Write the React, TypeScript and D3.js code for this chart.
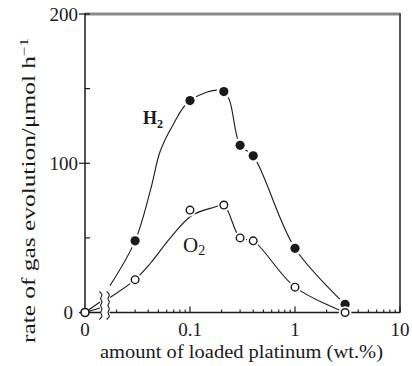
import React from "react";
import * as d3 from "d3";

const loadings = [0.03, 0.1, 0.21, 0.3, 0.4, 1, 3]; // wt.% Pt
const h2Rates = [48, 142, 148, 112, 105, 43, 5.5]; // µmol/h
const o2Rates = [22, 68.6, 72, 50, 48, 17, 0]; // µmol/h
const zeroRates = [0]; // at 0 wt.% (both gases)

// ---- hand-drawn guide curves ----
const h2FitLoadings = [0.0173, 0.03, 0.042, 0.052, 0.068, 0.1, 0.21, 0.3, 0.4, 1, 3];
const h2FitRates = [18, 48, 82, 108, 125, 142, 148, 112, 105, 43, 5.5];
const o2FitLoadings = [0.0173, 0.03, 0.042, 0.065, 0.104, 0.17, 0.21, 0.3, 0.4, 1, 3];
const o2FitRates = [10, 22, 33, 50, 65, 70.5, 72, 50, 48, 17, 0];

// short straight segments between the 0 point and the axis break
const preBreakLoading = 0.0139;
const h2PreBreak = 7;
const o2PreBreak = 3;

const xTickValues = [0.1, 1, 10];
const xTickLabels = ["0.1", "1", "10"];
const yTickValues = [0, 100, 200];
const yTickLabels = ["0", "100", "200"];
const yMinorTicks = [50, 150];

const FONT = "'Liberation Serif', 'Times New Roman', serif";
const INK = "#1a1a1a";

export default function App() {
  const W = 412;
  const H = 366;
  const x = d3.scaleLog().domain([0.01, 10]).range([85, 400]);
  const y = d3.scaleLinear().domain([0, 200]).range([312.5, 14]);
  const x0 = x.range()[0];
  const x1 = x.range()[1];
  const yb = y(0);
  const yt = y(200);

  const minorX: number[] = [];
  [0.01, 0.1, 1].forEach((d) => {
    for (let m = 2; m <= 9; m++) minorX.push(d * m);
  });

  const line = d3
    .line<number>()
    .curve(d3.curveCatmullRom.alpha(0.5));

  const h2Path = d3
    .line<number>()
    .x((d, i) => x(h2FitLoadings[i]))
    .y((d) => y(d))
    .curve(d3.curveCatmullRom.alpha(0.5))(h2FitRates) || "";
  const o2Path = d3
    .line<number>()
    .x((d, i) => x(o2FitLoadings[i]))
    .y((d) => y(d))
    .curve(d3.curveCatmullRom.alpha(0.5))(o2FitRates) || "";
  void line;

  // break squiggles
  const bx1 = x(0.0143);
  const bx2 = x(0.0168);
  const squiggle = (cx: number) => {
    const pts: [number, number][] = [];
    let k = 0;
    for (let yy = yb - 21; yy <= yb + 10; yy += 3.5, k++) {
      pts.push([cx + (k % 2 === 0 ? -2 : 2), yy]);
    }
    return d3.line<[number, number]>().curve(d3.curveBasis)(pts) || "";
  };

  return (
    <svg width={W} height={H} style={{ display: "block", position: "absolute", left: 0, top: 0, background: "#fff" }}>
      <rect width={W} height={H} fill="#fff" />
      {/* frame */}
      <line x1={x0} x2={x1} y1={yt} y2={yt} stroke="#8a8a8a" strokeWidth={3} />
      <line x1={x1} x2={x1} y1={yt - 1} y2={yb} stroke="#555" strokeWidth={2} />
      <line x1={x0} x2={x0} y1={yt - 1} y2={yb} stroke={INK} strokeWidth={1.5} />
      {/* bottom axis with break */}
      <line x1={x0} x2={bx1 - 1} y1={yb} y2={yb} stroke={INK} strokeWidth={1.5} />
      <line x1={bx2 + 1} x2={x1} y1={yb} y2={yb} stroke={INK} strokeWidth={1.5} />
      <path d={squiggle(bx1)} fill="none" stroke={INK} strokeWidth={1.1} />
      <path d={squiggle(bx2)} fill="none" stroke={INK} strokeWidth={1.1} />

      {/* y ticks */}
      {yTickValues.map((v) => (
        <line key={"yt" + v} x1={x0 - 6} x2={x0 + 5} y1={y(v)} y2={y(v)} stroke={INK} strokeWidth={1.2} />
      ))}
      {yMinorTicks.map((v) => (
        <line key={"ym" + v} x1={x0} x2={x0 + 5} y1={y(v)} y2={y(v)} stroke={INK} strokeWidth={1.2} />
      ))}
      {yTickValues.map((v, i) => (
        <text
          key={"yl" + v}
          x={v === 0 ? x0 - 12 : x0 - 7}
          y={y(v)}
          dy="0.36em"
          textAnchor="end"
          fontFamily={FONT}
          fontSize={19}
          fill={INK}
        >
          {yTickLabels[i]}
        </text>
      ))}

      {/* x ticks */}
      {minorX.map((v) => (
        <line key={"xm" + v} x1={x(v)} x2={x(v)} y1={yb} y2={yb - 3} stroke={INK} strokeWidth={1.1} />
      ))}
      {xTickValues.map((v) => (
        <line key={"xt" + v} x1={x(v)} x2={x(v)} y1={yb} y2={yb - 6} stroke={INK} strokeWidth={1.2} />
      ))}
      <text x={x0} y={336} textAnchor="middle" fontFamily={FONT} fontSize={19} fill={INK}>
        0
      </text>
      {xTickValues.map((v, i) => (
        <text key={"xl" + v} x={x(v)} y={336} textAnchor="middle" fontFamily={FONT} fontSize={19} fill={INK}>
          {xTickLabels[i]}
        </text>
      ))}

      {/* axis titles */}
      <text
        x={241.5}
        y={358}
        textAnchor="middle"
        fontFamily={FONT}
        fontSize={18}
        fill={INK}
        textLength={283}
        lengthAdjust="spacingAndGlyphs"
      >
        amount of loaded platinum (wt.%)
      </text>
      <text
        transform={`translate(35,${(38 + 343) / 2}) rotate(-90)`}
        textAnchor="middle"
        fontFamily={FONT}
        fontSize={18}
        fill={INK}
        textLength={305}
        lengthAdjust="spacingAndGlyphs"
      >
        rate of gas evolution/μmol h
        <tspan dy={-7} fontSize={12}>
          −1
        </tspan>
      </text>

      {/* pre-break segments from the 0 wt.% point */}
      <line x1={x0} y1={y(zeroRates[0])} x2={x(preBreakLoading)} y2={y(h2PreBreak)} stroke={INK} strokeWidth={1.1} />
      <line x1={x0} y1={y(zeroRates[0])} x2={x(preBreakLoading)} y2={y(o2PreBreak)} stroke={INK} strokeWidth={1.1} />

      {/* guide curves */}
      <path d={h2Path} fill="none" stroke={INK} strokeWidth={1.1} />
      <path d={o2Path} fill="none" stroke={INK} strokeWidth={1.1} />

      {/* markers: white halos then symbols */}
      {loadings.map((l, i) => (
        <g key={"h" + i}>
          <circle cx={x(l)} cy={y(h2Rates[i])} r={7.2} fill="#fff" />
          <circle cx={x(l)} cy={y(h2Rates[i])} r={4.6} fill={INK} />
        </g>
      ))}
      {loadings.map((l, i) => (
        <g key={"o" + i}>
          <circle cx={x(l)} cy={y(o2Rates[i])} r={6.3} fill="#fff" />
          <circle cx={x(l)} cy={y(o2Rates[i])} r={3.8} fill="#fff" stroke={INK} strokeWidth={1.4} />
        </g>
      ))}
      {zeroRates.map((v, i) => (
        <circle key={"z" + i} cx={x0} cy={y(v)} r={4} fill="#fff" stroke={INK} strokeWidth={1.6} />
      ))}

      {/* series labels */}
      <text x={143} y={124} fontFamily={FONT} fontSize={18} fontWeight="bold" fill={INK}>
        H
        <tspan dy={4} fontSize={12}>
          2
        </tspan>
      </text>
      <text x={183} y={252} fontFamily={FONT} fontSize={21} fill={INK}>
        O
        <tspan dy={3} fontSize={14}>
          2
        </tspan>
      </text>
    </svg>
  );
}
